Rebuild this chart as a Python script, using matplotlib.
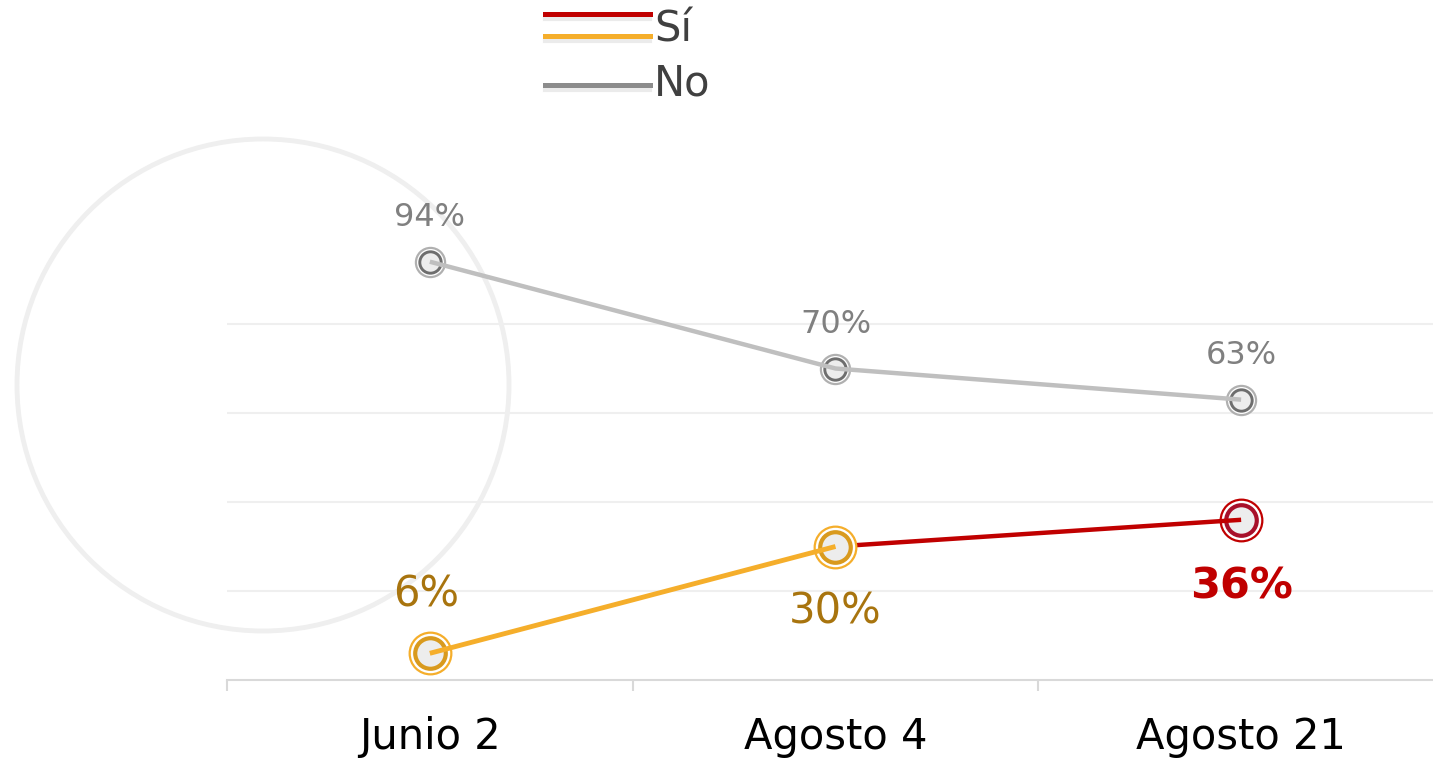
import matplotlib
matplotlib.use("Agg")
import matplotlib.pyplot as plt
from matplotlib.lines import Line2D
from matplotlib.patches import Circle

# data
fechas = ["Junio 2", "Agosto 4", "Agosto 21"]
si_vals = [6, 30, 36]
no_vals = [94, 70, 63]
si_labels = ["6%", "30%", "36%"]
no_labels = ["94%", "70%", "63%"]

ORANGE = "#F5AE2B"
ORANGE_DK = "#D99A1E"
ORANGE_TXT = "#A8740E"
RED = "#C00000"
RED_DK = "#A8102A"
GRAY = "#BFBFBF"
GRAY_DK = "#6E6E6E"
GRAY_TXT = "#808080"

plt.rcParams["font.family"] = ["DejaVu Sans"]

fig = plt.figure(figsize=(14.33, 7.59), dpi=100)
ax = fig.add_axes([227 / 1433, 1 - 680 / 759, 1 - 227 / 1433, 534 / 759])
ax.patch.set_alpha(0)
x = list(range(len(fechas)))

# decorative background ring
fig.add_artist(Circle((2.63, (759 - 385) / 100), 2.46, transform=fig.dpi_scale_trans,
                      fill=False, ec="#EFEFEF", lw=3.5, zorder=0))


def marker(ax, xx, yy, outer, inner, big, z):
    s = 1.0 if big else 0.7
    ax.plot([xx], [yy], "o", ms=30 * s, mfc="white", mec=outer, mew=1.6, zorder=z)
    ax.plot([xx], [yy], "o", ms=22 * s, mfc="#EDEDED", mec=inner, mew=3.0 * s, zorder=z)


# "No" series
ax.plot(x, no_vals, color=GRAY, lw=3.2, zorder=5, solid_capstyle="butt")
for i in x:
    marker(ax, x[i], no_vals[i], "#B0B0B0", GRAY_DK, False, 4)
    ax.annotate(no_labels[i], (x[i], no_vals[i]), xytext=(0, 32), textcoords="offset points",
                ha="center", va="center", fontsize=23, color=GRAY_TXT)

# "Sí" series: orange up to Agosto 4, red afterwards
ax.plot(x[:2], si_vals[:2], color=ORANGE, lw=3.5, zorder=7, solid_capstyle="butt")
ax.plot(x[1:], si_vals[1:], color=RED, lw=3.2, zorder=3, solid_capstyle="butt")
marker(ax, x[0], si_vals[0], ORANGE, ORANGE_DK, True, 6)
marker(ax, x[1], si_vals[1], ORANGE, ORANGE_DK, True, 6)
marker(ax, x[2], si_vals[2], RED, RED_DK, True, 2)

ax.annotate(si_labels[0], (x[0], si_vals[0]), xytext=(-3, 42), textcoords="offset points",
            ha="center", va="center", fontsize=30, color=ORANGE_TXT)
ax.annotate(si_labels[1], (x[1], si_vals[1]), xytext=(0, -47), textcoords="offset points",
            ha="center", va="center", fontsize=30, color=ORANGE_TXT)
ax.annotate(si_labels[2], (x[2], si_vals[2]), xytext=(0, -48), textcoords="offset points",
            ha="center", va="center", fontsize=31, color=RED, fontweight="bold")

ax.set_yticks([20, 40, 60, 80])
ax.tick_params(axis="y", left=False, labelleft=False)
ax.grid(axis="y", color="#EFEFEF", lw=1.5)
ax.set_axisbelow(True)

ax.set_xticks(x)
ax.set_xticklabels(fechas, fontsize=30)
ax.set_xticks([-0.5, 0.5, 1.5], minor=True)
ax.tick_params(axis="x", which="major", length=0, pad=26, colors="black")
ax.tick_params(axis="x", which="minor", length=8, width=1.5, color="#D9D9D9")
ax.set_xlim(-0.5, 2.473)
ax.set_ylim(0, 120)

for side in ["top", "right", "left"]:
    ax.spines[side].set_visible(False)
ax.spines["bottom"].set_color("#D9D9D9")
ax.spines["bottom"].set_linewidth(1.5)

# legend drawn by hand (Sí uses both colours)
def leg_line(y, color):
    yf = 1 - y / 759
    fig.add_artist(Line2D([545 / 1433, 650 / 1433], [yf - 0.007, yf - 0.007],
                          color="#E6E6E6", lw=3, alpha=0.8))
    fig.add_artist(Line2D([545 / 1433, 650 / 1433], [yf, yf], color=color, lw=3.6))

leg_line(14, RED)
leg_line(36, ORANGE)
leg_line(85, "#8C8C8C")
fig.text(654 / 1433, 1 - 30 / 759, "Sí", fontsize=30, color="#404040", va="center", ha="left")
fig.text(654 / 1433, 1 - 84 / 759, "No", fontsize=30, color="#404040", va="center", ha="left")

fig.savefig("out.png", dpi=100)
